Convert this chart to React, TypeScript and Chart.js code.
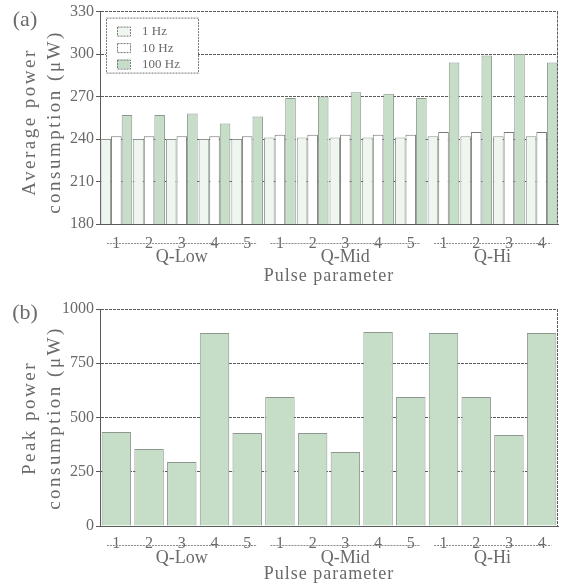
import React, { useEffect, useRef } from 'react';
import { Chart, registerables } from 'chart.js';
Chart.register(...registerables);

const categories = ['1', '2', '3', '4', '5', '1', '2', '3', '4', '5', '1', '2', '3', '4'];
const groupLabels = ['Q-Low', 'Q-Mid', 'Q-Hi'];
const groupSizes = [5, 5, 4];
const seriesNames = ['1 Hz', '10 Hz', '100 Hz'];
const avg1Hz = [240, 240, 240, 240, 240, 241, 241, 241, 241, 241, 242, 242, 242, 242];
const avg10Hz = [242, 242, 242, 242, 242, 243, 243, 243, 243, 243, 245, 245, 245, 245];
const avg100Hz = [257, 257, 258, 251, 256, 269, 270, 273, 272, 269, 294, 299, 300, 294];
const peakPower = [433, 355, 295, 889, 428, 594, 428, 341, 894, 594, 889, 594, 419, 889];
const avgTicks = [180, 210, 240, 270, 300, 330];
const peakTicks = [0, 250, 500, 750, 1000];

const FONT = '"Liberation Serif", "DejaVu Serif", serif';
const TEXT = '#6a6a6a';
const GREEN = '#c6dec8';
const PALE = '#eef6ef';
const EDGE = '#8d978e';
const GRID = '#5a5a5a';

function decorPlugin(cfg: any) {
  return {
    id: 'decor',
    afterDatasetsDraw(chart: any) {
      const ctx = chart.ctx;
      const a = chart.chartArea;
      const x = chart.scales.x;
      ctx.save();
      // right border
      ctx.strokeStyle = GRID;
      ctx.lineWidth = 1;
      ctx.setLineDash([3, 1]);
      ctx.beginPath();
      ctx.moveTo(a.right - 0.5, a.top);
      ctx.lineTo(a.right - 0.5, a.bottom);
      ctx.stroke();
      // legend
      if (cfg.legend) {
        const bx = a.left + 6, by = a.top + 6, bw = 92, bh = 55;
        ctx.fillStyle = '#fff';
        ctx.fillRect(bx, by, bw, bh);
        ctx.strokeStyle = '#777';
        ctx.setLineDash([2, 1]);
        ctx.strokeRect(bx + 0.5, by + 0.5, bw, bh);
        ctx.font = `13px ${FONT}`;
        ctx.textBaseline = 'middle';
        ctx.textAlign = 'left';
        chart.data.datasets.forEach((ds: any, i: number) => {
          const cy = by + 13 + i * 16.5;
          ctx.fillStyle = ds.backgroundColor;
          ctx.fillRect(bx + 11, cy - 4, 13, 9);
          ctx.strokeStyle = '#777';
          ctx.strokeRect(bx + 11.5, cy - 3.5, 13, 9);
          ctx.fillStyle = TEXT;
          ctx.fillText(ds.label, bx + 36, cy + 1);
        });
      }
      ctx.setLineDash([]);
      // groups
      const w = x.getPixelForValue(1) - x.getPixelForValue(0);
      let start = 0;
      groupLabels.forEach((g, i) => {
        const end = start + groupSizes[i] - 1;
        const x0 = x.getPixelForValue(start) - 0.29 * w;
        const x1 = x.getPixelForValue(end) + 0.3 * w;
        ctx.strokeStyle = '#8a8a8a';
        ctx.setLineDash([2, 1]);
        ctx.beginPath();
        ctx.moveTo(x0, a.bottom + cfg.bracket + 0.5);
        ctx.lineTo(x1, a.bottom + cfg.bracket + 0.5);
        ctx.stroke();
        ctx.setLineDash([]);
        ctx.fillStyle = TEXT;
        ctx.font = `18px ${FONT}`;
        ctx.textAlign = 'center';
        ctx.textBaseline = 'middle';
        ctx.fillText(g, (x.getPixelForValue(start) + x.getPixelForValue(end)) / 2, a.bottom + cfg.group);
        start = end + 1;
      });
      ctx.font = `18px ${FONT}`;
      (ctx as any).letterSpacing = '1px';
      ctx.fillText('Pulse parameter', (a.left + a.right) / 2, a.bottom + cfg.title);
      // y title
      ctx.font = `19px ${FONT}`;
      (ctx as any).letterSpacing = '2.5px';
      ctx.save();
      ctx.translate(30, cfg.yCenter);
      ctx.rotate(-Math.PI / 2);
      ctx.fillText(cfg.yTitle[0], 0, 0);
      ctx.restore();
      ctx.save();
      ctx.translate(55, cfg.yCenter);
      ctx.rotate(-Math.PI / 2);
      ctx.fillText(cfg.yTitle[1], 0, 0);
      ctx.restore();
      (ctx as any).letterSpacing = '0px';
      // panel label
      ctx.font = `22px ${FONT}`;
      ctx.fillText(cfg.panel, 25, cfg.panelY);
      ctx.restore();
    },
  };
}

function baseOptions(min: number, max: number, ticks: number[], cfg: any) {
  return {
    responsive: false,
    animation: false,
    layout: { padding: { top: cfg.padTop, right: 3, left: 0, bottom: 0 } },
    plugins: { legend: { display: false }, tooltip: { enabled: false } },
    scales: {
      x: {
        grid: { display: false },
        border: { display: true, color: GRID, dash: [3, 1] },
        ticks: { color: TEXT, font: { family: FONT, size: 16 }, padding: cfg.xPad, maxRotation: 0, autoSkip: false },
        afterFit: (s: any) => { s.height = cfg.xHeight; },
      },
      y: {
        min, max,
        afterBuildTicks: (s: any) => { s.ticks = ticks.map((v) => ({ value: v })); },
        grid: { color: GRID, lineWidth: 1, drawTicks: true, tickLength: 4 },
        border: { display: true, color: GRID, dash: [3, 1] },
        ticks: { color: TEXT, font: { family: FONT, size: 16 }, padding: 2, callback: (v: any) => String(v) },
        afterFit: (s: any) => { s.width = 100; },
      },
    },
  };
}

function ChartA() {
  const ref = useRef<HTMLCanvasElement>(null);
  useEffect(() => {
    const cfg = { legend: true, bracket: 19, group: 33, title: 52, yTitle: ['Average power', 'consumption (μW)'], yCenter: 122, panel: '(a)', panelY: 20, padTop: 9, xPad: 2, xHeight: 66 };
    const chart = new Chart(ref.current as HTMLCanvasElement, {
      type: 'bar',
      data: {
        labels: categories,
        datasets: [
          { label: seriesNames[0], data: avg1Hz, backgroundColor: PALE, borderColor: EDGE, borderWidth: 1, categoryPercentage: 0.97, barPercentage: 1 },
          { label: seriesNames[1], data: avg10Hz, backgroundColor: '#ffffff', borderColor: '#777', borderWidth: 1, categoryPercentage: 0.97, barPercentage: 1 },
          { label: seriesNames[2], data: avg100Hz, backgroundColor: GREEN, borderColor: EDGE, borderWidth: 1, categoryPercentage: 0.97, barPercentage: 1 },
        ],
      },
      options: baseOptions(180, 330, avgTicks, cfg) as any,
      plugins: [decorPlugin(cfg)],
    });
    return () => chart.destroy();
  }, []);
  return <canvas ref={ref} width={561} height={290} style={{ display: 'block' }} />;
}

function ChartB() {
  const ref = useRef<HTMLCanvasElement>(null);
  useEffect(() => {
    const cfg = { legend: false, bracket: 19, group: 32, title: 48, yTitle: ['Peak power', 'consumption (μW)'], yCenter: 128, panel: '(b)', panelY: 23, padTop: 19, xPad: 0, xHeight: 59 };
    const chart = new Chart(ref.current as HTMLCanvasElement, {
      type: 'bar',
      data: {
        labels: categories,
        datasets: [
          { label: 'Peak power', data: peakPower, backgroundColor: GREEN, borderColor: EDGE, borderWidth: 1, categoryPercentage: 1, barPercentage: 0.9 },
        ],
      },
      options: baseOptions(0, 1000, peakTicks, cfg) as any,
      plugins: [decorPlugin(cfg)],
    });
    return () => chart.destroy();
  }, []);
  return <canvas ref={ref} width={561} height={295} style={{ display: 'block' }} />;
}

export default function App() {
  return (
    <div style={{ position: 'fixed', left: 0, top: 0, width: 561, height: 585, background: '#fff' }}>
      <ChartA />
      <ChartB />
    </div>
  );
}
